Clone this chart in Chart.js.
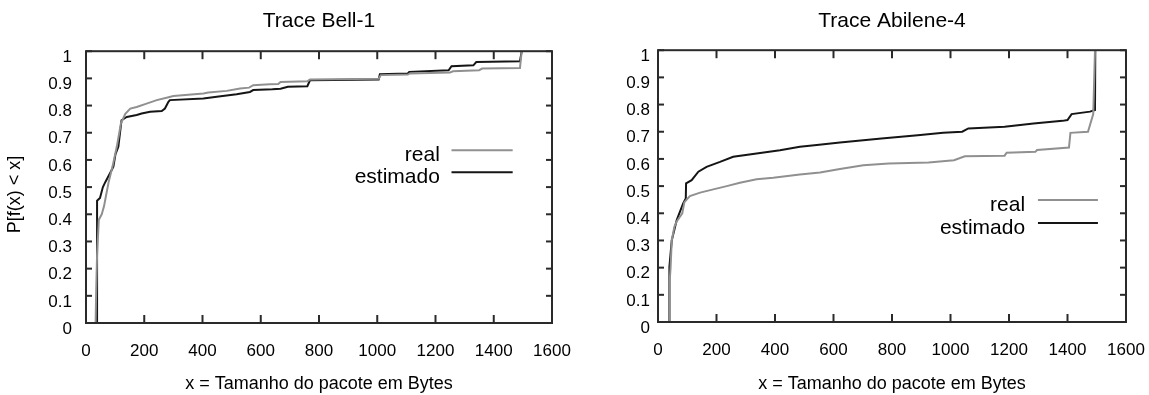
<!DOCTYPE html>
<html>
<head>
<meta charset="utf-8">
<script src="https://cdn.jsdelivr.net/npm/chart.js@4.4.1/dist/chart.umd.min.js"></script>
<style>
  html, body { margin: 0; padding: 0; background: #fff; }
  #wrap { position: relative; width: 1149px; height: 395px; }
  canvas { position: absolute; top: 0; }
  #bellChart { left: 0; }
  #abileneChart { left: 575px; }
</style>
</head>
<body>
<div id="wrap">
  <canvas id="bellChart" width="575" height="395"></canvas>
  <canvas id="abileneChart" width="574" height="395"></canvas>
</div>
<script>
// Tick labels
const xTickLabels = ['0', '200', '400', '600', '800', '1000', '1200', '1400', '1600'];
const yTickLabels = ['0', '0.1', '0.2', '0.3', '0.4', '0.5', '0.6', '0.7', '0.8', '0.9', '1'];
const seriesNames = ['real', 'estimado'];

// Trace Bell-1
const bellRealX = [33, 35, 38, 44, 54, 62, 69, 78, 92, 106, 120, 135, 152, 174, 208, 243, 280, 300, 403, 420, 483, 529, 560, 574, 631, 660, 668, 760, 769, 921, 1005, 1012, 1105, 1112, 1250, 1260, 1350, 1360, 1490, 1496];
const bellRealY = [0, 0.12, 0.25, 0.38, 0.40, 0.43, 0.47, 0.52, 0.58, 0.65, 0.735, 0.77, 0.789, 0.795, 0.807, 0.82, 0.83, 0.835, 0.844, 0.848, 0.854, 0.863, 0.866, 0.875, 0.878, 0.879, 0.887, 0.889, 0.896, 0.898, 0.899, 0.912, 0.914, 0.918, 0.922, 0.926, 0.93, 0.936, 0.938, 1.0];
const bellEstX = [38, 38, 48, 58, 67, 82, 94, 101, 111, 122, 140, 174, 191, 220, 260, 271, 283, 288, 403, 449, 517, 563, 574, 640, 668, 693, 760, 769, 1005, 1009, 1105, 1110, 1245, 1255, 1330, 1340, 1490, 1496];
const bellEstY = [0, 0.45, 0.46, 0.50, 0.52, 0.55, 0.575, 0.62, 0.648, 0.746, 0.758, 0.765, 0.771, 0.777, 0.78, 0.789, 0.814, 0.82, 0.826, 0.832, 0.842, 0.85, 0.857, 0.86, 0.862, 0.869, 0.871, 0.893, 0.896, 0.915, 0.918, 0.924, 0.93, 0.945, 0.948, 0.96, 0.963, 1.0];

// Trace Abilene-4
const abiRealX = [40, 40, 43, 47, 56, 64, 83, 90, 98, 109, 144, 189, 235, 280, 337, 394, 485, 554, 622, 702, 789, 925, 1012, 1049, 1185, 1192, 1290, 1296, 1405, 1410, 1470, 1488, 1494];
const abiRealY = [0, 0.15, 0.2, 0.30, 0.35, 0.37, 0.40, 0.44, 0.45, 0.463, 0.476, 0.488, 0.50, 0.512, 0.525, 0.531, 0.543, 0.55, 0.563, 0.577, 0.583, 0.587, 0.595, 0.61, 0.612, 0.623, 0.626, 0.633, 0.642, 0.696, 0.70, 0.765, 1.0];
const abiEstX = [39, 39, 47, 64, 86, 95, 96, 115, 138, 166, 212, 257, 337, 417, 485, 543, 622, 764, 888, 975, 1040, 1061, 1185, 1284, 1383, 1400, 1414, 1477, 1494, 1495];
const abiEstY = [0, 0.203, 0.30, 0.375, 0.436, 0.455, 0.51, 0.522, 0.553, 0.571, 0.589, 0.608, 0.62, 0.632, 0.645, 0.651, 0.66, 0.675, 0.687, 0.696, 0.70, 0.712, 0.718, 0.73, 0.74, 0.743, 0.765, 0.774, 0.78, 1.0];

const FONT = "'Liberation Sans', Arial, Helvetica, sans-serif";
const GRAY = '#909090';
const BLACK = '#151515';

function toPoints(xs, ys) {
  return xs.map((x, i) => ({ x: x, y: ys[i] }));
}

// gnuplot-like frame, inward ticks on all four sides and key inside the plot
const gnuFrame = {
  id: 'gnuFrame',
  afterDatasetsDraw(chart, args, opts) {
    const { ctx, chartArea: a, scales: { x, y } } = chart;
    const line = (x0, y0, x1, y1) => { ctx.beginPath(); ctx.moveTo(x0, y0); ctx.lineTo(x1, y1); ctx.stroke(); };
    ctx.save();
    ctx.strokeStyle = '#2a2a2a';
    ctx.lineWidth = 2;
    ctx.strokeRect(a.left, a.top, a.right - a.left, a.bottom - a.top);
    x.ticks.forEach(t => {
      const px = x.getPixelForValue(t.value);
      line(px, a.bottom, px, a.bottom - 8);
      line(px, a.top, px, a.top + 8);
    });
    y.ticks.forEach(t => {
      const py = y.getPixelForValue(t.value);
      line(a.left, py, a.left + 6, py);
      line(a.right, py, a.right - 6, py);
    });
    ctx.font = '21px ' + FONT;
    ctx.textAlign = 'right';
    ctx.textBaseline = 'middle';
    ctx.fillStyle = '#000';
    chart.data.datasets.forEach((ds, i) => {
      const ly = y.getPixelForValue(opts.rows[i]);
      ctx.fillText(ds.label, x.getPixelForValue(opts.textX), ly + 5);
      ctx.strokeStyle = ds.borderColor;
      ctx.lineWidth = ds.borderWidth;
      line(x.getPixelForValue(opts.lineFrom), ly, x.getPixelForValue(opts.lineTo), ly);
    });
    ctx.restore();
  }
};

function makeChart(id, title, realX, realY, estX, estY, cfg) {
  return new Chart(document.getElementById(id), {
    type: 'line',
    data: {
      datasets: [{
        label: seriesNames[0],
        data: toPoints(realX, realY),
        borderColor: GRAY,
        borderWidth: 2,
        pointRadius: 0,
        fill: false,
        tension: 0
      }, {
        label: seriesNames[1],
        data: toPoints(estX, estY),
        borderColor: BLACK,
        borderWidth: 2,
        pointRadius: 0,
        fill: false,
        tension: 0
      }]
    },
    options: {
      responsive: false,
      animation: false,
      layout: { padding: { left: 0, right: cfg.padRight, top: 0, bottom: 0 } },
      plugins: {
        legend: { display: false },
        tooltip: { enabled: false },
        title: {
          display: true,
          text: title,
          fullSize: false,
          color: '#000',
          font: { family: FONT, size: 21, weight: 'normal' },
          padding: { top: 9, bottom: cfg.titleBottom }
        },
        gnuFrame: cfg.key
      },
      scales: {
        x: {
          type: 'linear',
          min: 0,
          max: 1600,
          grid: { display: false, drawTicks: false },
          border: { display: false },
          ticks: {
            stepSize: 200,
            autoSkip: false,
            maxRotation: 0,
            padding: 18,
            color: '#000',
            font: { family: FONT, size: 17 },
            callback: (v, i) => xTickLabels[i]
          },
          title: {
            display: true,
            text: 'x = Tamanho do pacote em Bytes',
            color: '#000',
            font: { family: FONT, size: 18 },
            padding: { top: 0, bottom: 0 }
          },
          afterFit: s => {
            s.height = cfg.xHeight;
            s.paddingLeft = 0;
            s.paddingRight = 0;
          }
        },
        y: {
          type: 'linear',
          min: 0,
          max: 1,
          grid: { display: false, drawTicks: false },
          border: { display: false },
          ticks: {
            stepSize: 0.1,
            autoSkip: false,
            padding: cfg.yPad,
            labelOffset: 6,
            color: '#000',
            font: { family: FONT, size: 17 },
            callback: (v, i) => yTickLabels[i]
          },
          title: {
            display: cfg.yTitle !== '',
            text: cfg.yTitle,
            color: '#000',
            font: { family: FONT, size: 18 },
            padding: { top: 4, bottom: 0 }
          },
          afterFit: s => { s.width = cfg.yWidth; }
        }
      }
    },
    plugins: [gnuFrame]
  });
}

makeChart('bellChart', 'Trace Bell-1', bellRealX, bellRealY, bellEstX, bellEstY, {
  padRight: 23, titleBottom: 17, xHeight: 72, yWidth: 86, yPad: 14, yTitle: 'P[f(x) < x]\u00a0\u00a0\u00a0',
  key: { rows: [0.636, 0.555], textX: 1215, lineFrom: 1255, lineTo: 1465 }
});

makeChart('abileneChart', 'Trace Abilene-4', abiRealX, abiRealY, abiEstX, abiEstY, {
  padRight: 23, titleBottom: 16, xHeight: 73, yWidth: 83, yPad: 8, yTitle: '',
  key: { rows: [0.449, 0.364], textX: 1255, lineFrom: 1299, lineTo: 1504 }
});
</script>
</body>
</html>
